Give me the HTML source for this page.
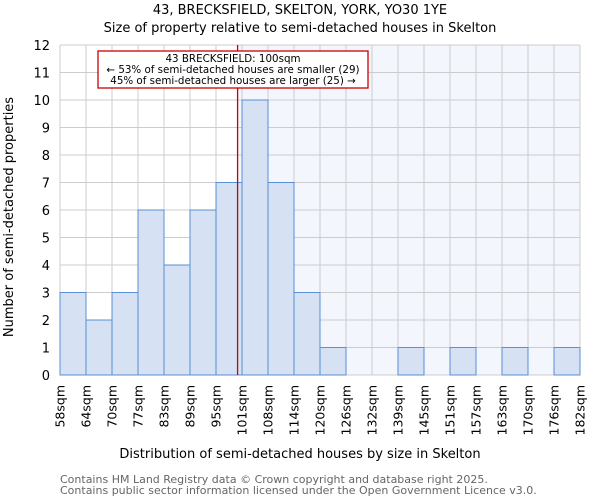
<!DOCTYPE html>
<html><head><meta charset="utf-8"><style>
body{margin:0;background:#fff;}
svg{font-family:"DejaVu Sans","Liberation Sans",sans-serif;display:block}
</style></head><body>
<svg id="chart" width="600" height="500"></svg>
<script>
const categories=["58sqm","64sqm","70sqm","77sqm","83sqm","89sqm","95sqm","101sqm","108sqm","114sqm","120sqm","126sqm","132sqm","139sqm","145sqm","151sqm","157sqm","163sqm","170sqm","176sqm","182sqm"];
const counts=[3,2,3,6,4,6,7,10,7,3,1,0,0,1,0,1,0,1,0,1];
const yTicks=[0,1,2,3,4,5,6,7,8,9,10,11,12];
const markerBin=6.83;
const NS="http://www.w3.org/2000/svg";
const svg=document.getElementById('chart');
const X0=60,X1=580,Y0=375,Y1=45,YMAX=12;
const nb=counts.length,bw=(X1-X0)/nb;
const xs=i=>X0+i*bw;
const ys=v=>Y0-(v/YMAX)*(Y0-Y1);
function el(tag,attrs,txt){const e=document.createElementNS(NS,tag);for(const k in attrs)e.setAttribute(k,attrs[k]);if(txt!==undefined)e.textContent=txt;svg.appendChild(e);return e;}
const mx=xs(markerBin);
let r=el('rect',{x:mx,y:Y1,width:X1-mx,height:Y0-Y1,fill:'#f3f6fd'});


yTicks.forEach(t=>{let l=el('line',{x1:X0,x2:X1,y1:ys(t),y2:ys(t),stroke:'#cccccc'});


let tx=el('text',{x:50,y:ys(t)+5,'text-anchor':'end','font-size':13,fill:'#000'},t);

});
categories.forEach((c,i)=>{let l=el('line',{x1:xs(i),x2:xs(i),y1:Y1,y2:Y0,stroke:'#cccccc'});


let tx=el('text',{transform:`translate(${xs(i)+4.5},385) rotate(-90)`,'text-anchor':'end','font-size':12.5,fill:'#000'},c);

});
counts.forEach((v,i)=>{if(v<=0)return;let b=el('rect',{x:xs(i),y:ys(v),width:bw,height:Y0-ys(v),fill:'#d6e2f3',stroke:'#5b8fd6','stroke-width':1});

});
let ml=el('line',{x1:mx,x2:mx,y1:Y1,y2:Y0,stroke:'#cc0000','stroke-width':1.3});


let box=el('rect',{x:98,y:51,width:270,height:37,fill:'#fff',stroke:'#cc0000','stroke-width':1.3});


[["43 BRECKSFIELD: 100sqm",62],["← 53% of semi-detached houses are smaller (29)",73],["45% of semi-detached houses are larger (25) →",84]].forEach(a=>{let t=el('text',{x:233,y:a[1],'text-anchor':'middle','font-size':10.3},a[0]);

});
let t1=el('text',{x:300,y:14,'text-anchor':'middle','font-size':13},'43, BRECKSFIELD, SKELTON, YORK, YO30 1YE');


let t2=el('text',{x:300,y:32,'text-anchor':'middle','font-size':13},'Size of property relative to semi-detached houses in Skelton');


let xt=el('text',{x:300,y:458,'text-anchor':'middle','font-size':13},'Distribution of semi-detached houses by size in Skelton');


let yt=el('text',{transform:'translate(13,217) rotate(-90)','text-anchor':'middle','font-size':13},'Number of semi-detached properties');


let f1=el('text',{x:60,y:483,'font-size':11,fill:'#666'},'Contains HM Land Registry data © Crown copyright and database right 2025.');


let f2=el('text',{x:60,y:494,'font-size':11,fill:'#666'},'Contains public sector information licensed under the Open Government Licence v3.0.');


</script>
</body></html>
